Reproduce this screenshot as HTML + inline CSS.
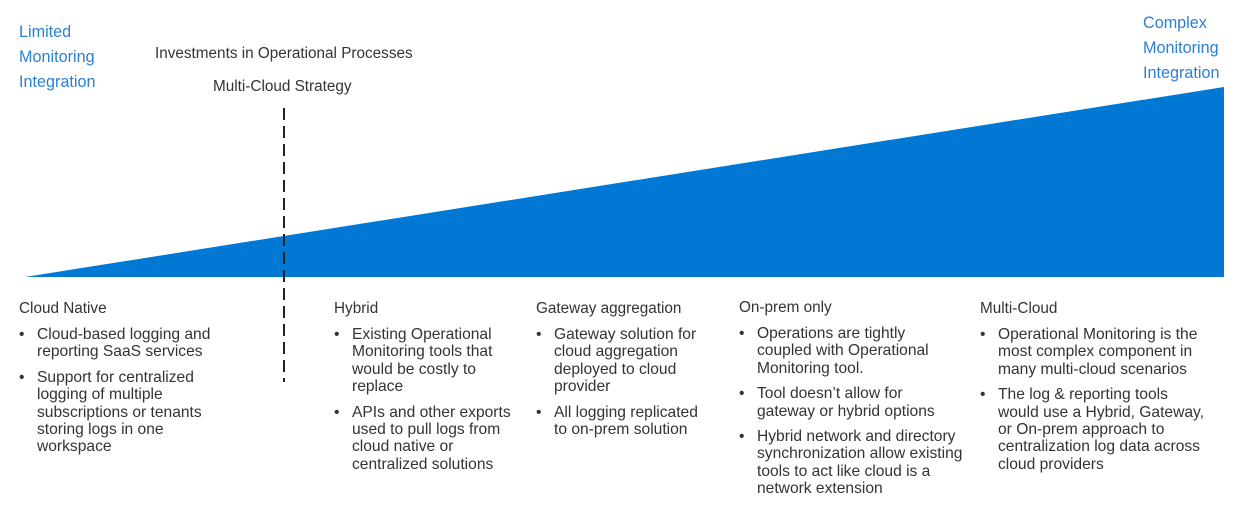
<!DOCTYPE html>
<html><head><meta charset="utf-8"><style>
body{margin:0;width:1240px;height:514px;background:#fff;position:relative;overflow:hidden;font-family:"Liberation Sans",sans-serif;}
.t{position:absolute;white-space:nowrap;font-size:15.6px;color:#333;line-height:17.4px;}
.b{color:#2a80d8;line-height:25px;font-size:16.2px;}
.h{font-size:15.3px;}
ul{margin:0;padding:0;list-style:none;}
li{position:relative;padding-left:18px;margin-bottom:8px;}
li:before{content:"•";position:absolute;left:0;top:0;}
</style></head><body>
<svg width="1240" height="514" style="position:absolute;left:0;top:0">
<polygon points="25,277 1224,87 1224,277" fill="#0078d4"/>
<line x1="284" y1="108" x2="284" y2="382" stroke="#222" stroke-width="2" stroke-dasharray="12,6"/>
</svg>
<div class="t b" style="left:19px;top:20px">Limited<br>Monitoring<br>Integration</div>
<div class="t b" style="left:1143px;top:11px">Complex<br>Monitoring<br>Integration</div>
<div class="t h" style="left:155px;top:45px">Investments in Operational Processes</div>
<div class="t h" style="left:213px;top:78px">Multi-Cloud Strategy</div>

<div class="t h" style="left:19px;top:300px">Cloud Native</div>
<div class="t" style="left:19px;top:326px"><ul>
<li>Cloud-based logging and<br>reporting SaaS services</li>
<li>Support for centralized<br>logging of multiple<br>subscriptions or tenants<br>storing logs in one<br>workspace</li></ul></div>

<div class="t h" style="left:334px;top:300px">Hybrid</div>
<div class="t" style="left:334px;top:326px"><ul>
<li>Existing Operational<br>Monitoring tools that<br>would be costly to<br>replace</li>
<li>APIs and other exports<br>used to pull logs from<br>cloud native or<br>centralized solutions</li></ul></div>

<div class="t h" style="left:536px;top:300px">Gateway aggregation</div>
<div class="t" style="left:536px;top:326px"><ul>
<li>Gateway solution for<br>cloud aggregation<br>deployed to cloud<br>provider</li>
<li>All logging replicated<br>to on-prem solution</li></ul></div>

<div class="t h" style="left:739px;top:299px">On-prem only</div>
<div class="t" style="left:739px;top:325px"><ul>
<li>Operations are tightly<br>coupled with Operational<br>Monitoring tool.</li>
<li>Tool doesn’t allow for<br>gateway or hybrid options</li>
<li>Hybrid network and directory<br>synchronization allow existing<br>tools to act like cloud is a<br>network extension</li></ul></div>

<div class="t h" style="left:980px;top:300px">Multi-Cloud</div>
<div class="t" style="left:980px;top:326px"><ul>
<li>Operational Monitoring is the<br>most complex component in<br>many multi-cloud scenarios</li>
<li>The log &amp; reporting tools<br>would use a Hybrid, Gateway,<br>or On-prem approach to<br>centralization log data across<br>cloud providers</li></ul></div>
</body></html>
